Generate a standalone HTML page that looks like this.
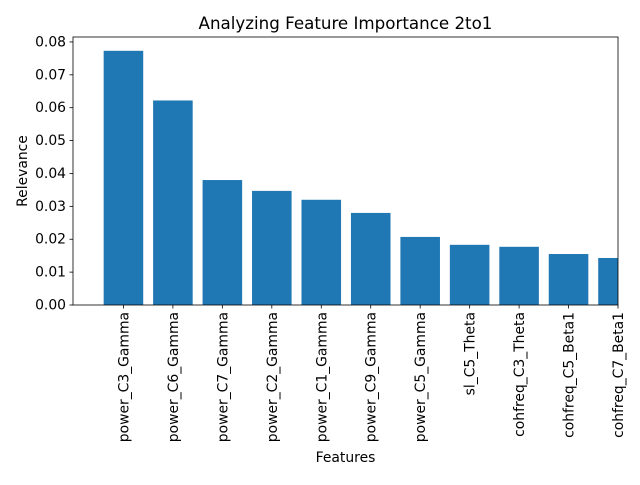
<!DOCTYPE html>
<html><head><meta charset="utf-8"><style>
body{margin:0;background:#fff;font-family:"Liberation Sans","DejaVu Sans",sans-serif;}
svg text{font-family:"DejaVu Sans","Liberation Sans",sans-serif;}
</style></head><body>
<svg id="c" width="640" height="480" xmlns="http://www.w3.org/2000/svg"></svg>
<script>
const categories=["power_C3_Gamma","power_C6_Gamma","power_C7_Gamma","power_C2_Gamma","power_C1_Gamma","power_C9_Gamma","power_C5_Gamma","sl_C5_Theta","cohfreq_C3_Theta","cohfreq_C5_Beta1","cohfreq_C7_Beta1"];
const values=[0.0773,0.0622,0.0380,0.0347,0.0320,0.0280,0.0207,0.0183,0.0177,0.0155,0.0143];
const yTicks=[0,0.01,0.02,0.03,0.04,0.05,0.06,0.07,0.08];
const yTickLabels=["0.00","0.01","0.02","0.03","0.04","0.05","0.06","0.07","0.08"];
const NS="http://www.w3.org/2000/svg";
const svg=document.getElementById('c');
const L=73,R=618,T=37,B=305;
const xmin=-1.02,xmax=10,ymin=0,ymax=0.0815;
const x=v=>L+(v-xmin)/(xmax-xmin)*(R-L);
const y=v=>B-(v-ymin)/(ymax-ymin)*(B-T);
function mk(tag,attrs,parent){const e=document.createElementNS(NS,tag);for(const k in attrs)e.setAttribute(k,attrs[k]);(parent||svg).appendChild(e);return e;}
const cp=mk('clipPath',{id:'clip'});mk('rect',{x:L,y:T,width:R-L,height:B-T},cp);
const bars=mk('g',{'clip-path':'url(#clip)'});


const bw=(x(0.8)-x(0));
values.forEach((v,i)=>{
 const r=mk('rect',{x:x(i)-bw/2,y:y(v),width:bw,height:y(0)-y(v),fill:'#1f77b4'},bars);
 
 
});
const frame=mk('rect',{x:L,y:T,width:R-L,height:B-T,fill:'none',stroke:'#000','stroke-width':0.8});


yTicks.forEach((t,i)=>{
 mk('line',{x1:L-3.5,x2:L,y1:y(t),y2:y(t),stroke:'#000','stroke-width':0.8});
 const tx=mk('text',{x:L-7,y:y(t)+4.5,'text-anchor':'end','font-size':'13.9'});tx.textContent=yTickLabels[i];
 
 
});
categories.forEach((c,i)=>{
 const xx=x(i);
 mk('line',{x1:xx,x2:xx,y1:B,y2:B+3.5,stroke:'#000','stroke-width':0.8});
 const tx=mk('text',{x:0,y:0,'text-anchor':'end','font-size':'13.9',transform:`translate(${xx+5},${B+7}) rotate(-90)`});tx.textContent=c;
 
 
});
const title=mk('text',{x:(L+R)/2,y:29,'text-anchor':'middle','font-size':'16.7'});title.textContent='Analyzing Feature Importance 2to1';


const xl=mk('text',{x:(L+R)/2,y:462,'text-anchor':'middle','font-size':'13.9'});xl.textContent='Features';


const yl=mk('text',{x:0,y:0,'text-anchor':'middle','font-size':'13.9',transform:`translate(27,${(T+B)/2}) rotate(-90)`});yl.textContent='Relevance';


</script>
</body></html>
